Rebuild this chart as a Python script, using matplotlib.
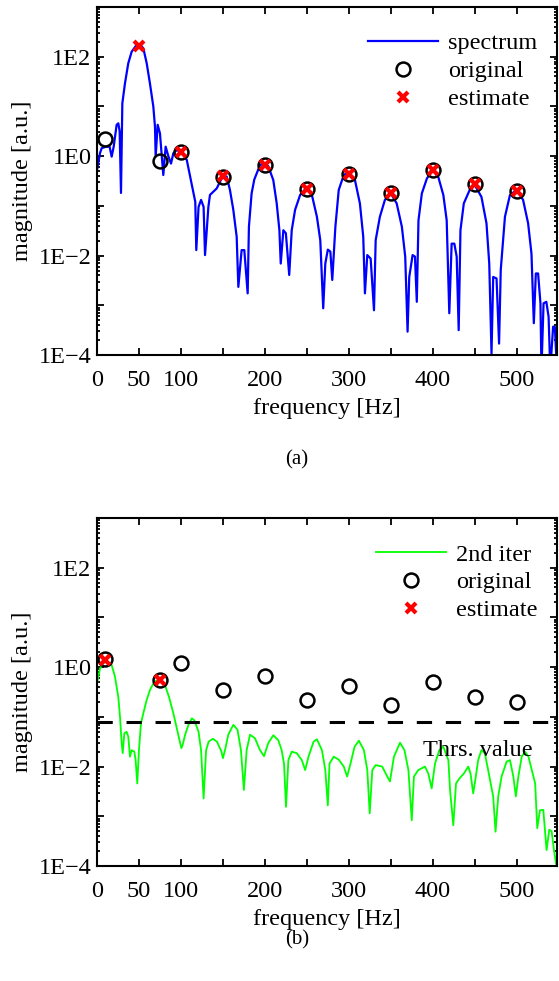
import numpy as np
import matplotlib
matplotlib.use('Agg')
import matplotlib.pyplot as plt
from matplotlib.ticker import FixedLocator, FuncFormatter, LogLocator, NullFormatter

# spectrum of panel (a): frequency [Hz] and log10(magnitude)
spec_freq = [0, 3.6, 5.6, 11, 15, 17.5, 20, 23.4, 25.4, 27, 28.6, 30.2, 33.3, 37.3, 41.3,
             47.3, 51, 55.2, 59.2, 63.1, 67.1, 69.1, 69.9, 72.3, 75, 79, 81.8, 85, 88.2,
             91, 95, 101, 107, 111, 115, 117.1, 118.3, 121, 124, 127, 128.7, 132.7, 134.6,
             142.6, 148.5, 154.5, 158.4, 162.4, 166.4, 168.4, 172.3, 175.5, 179.5, 181,
             184.2, 187.4, 190.2, 194.2, 199, 204, 210, 214.1, 217.3, 218.9, 222, 225, 229,
             232, 236, 242, 249, 256, 262, 266, 269.5, 272, 275, 278, 280.3, 284, 288, 294,
             299.5, 307.3, 313.2, 317.2, 319.2, 322, 326, 330, 332, 337, 343, 350, 357,
             363.2, 367.2, 370, 372, 376, 378.8, 381, 383, 387, 393, 400, 406.6, 412.6,
             416.6, 419.7, 422.5, 425.7, 428.5, 430.9, 433, 437, 444, 450, 458, 464, 467.3,
             470, 472, 476, 479, 481, 486, 492, 500, 507.6, 513.6, 517.6, 520.4, 522.8,
             525.5, 528.3, 529.5, 532, 535.3, 538, 540, 543.4, 545.4, 548]
spec_log = [-0.28, 0.06, 0.16, 0.19, 0.19, -0.01, 0.2, 0.63, 0.66, 0.5, -0.74, 1.06, 1.46,
            1.87, 2.10, 2.24, 2.25, 2.17, 1.87, 1.46, 1.0, 0.59, -0.01, 0.63, 0.46, -0.38,
            0.19, 0.0, -0.15, 0.06, 0.12, 0.09, -0.08, -0.41, -0.75, -0.92, -1.89, -1.02,
            -0.88, -1.02, -1.99, -1.02, -0.78, -0.65, -0.45, -0.41, -0.68, -1.08, -1.62,
            -2.63, -1.89, -1.89, -2.76, -1.42, -0.75, -0.47, -0.35, -0.18, -0.15, -0.2,
            -0.48, -0.95, -1.49, -2.16, -1.49, -1.55, -2.39, -1.49, -1.08, -0.78, -0.65,
            -0.78, -1.22, -1.69, -3.06, -2.16, -1.88, -1.92, -2.49, -1.42, -0.68, -0.38,
            -0.32, -0.48, -0.95, -1.62, -2.76, -1.99, -2.06, -3.1, -1.69, -1.22, -0.88,
            -0.75, -0.95, -1.42, -2.02, -3.53, -2.43, -1.99, -2.02, -2.93, -1.29, -0.75,
            -0.45, -0.28, -0.42, -0.78, -1.29, -3.16, -1.76, -1.76, -2.02, -3.5, -1.49,
            -0.95, -0.68, -0.58, -0.82, -1.35, -2.16, -3.97, -2.43, -2.46, -3.77, -2.29,
            -1.22, -0.78, -0.68, -0.88, -1.35, -1.96, -3.36, -2.36, -2.36, -2.96, -4.3,
            -2.96, -2.93, -3.23, -4.3, -3.43, -3.43, -4.3]

# 2nd iteration residual spectrum of panel (b)
iter_freq = [0, 3.6, 7.5, 11.5, 17.5, 21.4, 25.4, 27.4, 29.4, 30.6, 32.6, 35.3, 37.3, 39.3,
             41.3, 44.5, 46, 48, 50, 52.4, 55.2, 59.2, 63.1, 68.3, 74.3, 81, 85.8, 91,
             96.5, 100.5, 102, 105, 109, 113, 116, 121, 124, 127, 130, 133, 138, 143,
             148.3, 150, 152.5, 156.4, 162.4, 167.4, 171.5, 175, 178.3, 182.3, 188.2,
             194.2, 199, 204, 210, 216, 220, 222.8, 225.2, 228, 232, 238, 244, 248, 252,
             258, 262, 268, 272, 275, 277, 282, 288, 294, 298, 302, 306.9, 312, 318, 322,
             324.9, 328, 332, 339.8, 345.8, 349, 353.8, 361, 366.3, 371, 375, 377.6,
             382.8, 390.7, 394.7, 398.7, 402.7, 407.8, 412.6, 418.6, 420.6, 424.5, 427.7,
             431.7, 437, 442.3, 445, 448.2, 451.3, 454.1, 458, 462, 466, 472, 474.8, 478,
             482, 488, 492, 496, 499, 502, 506, 510, 514, 518, 522, 524.5, 527.7, 531.7,
             535.6, 538.8, 541.6, 544.4, 547.5, 549.9]
iter_log = [-0.33, -0.03, 0.08, 0.11, 0.04, -0.19, -0.6, -1.0, -1.53, -1.73, -1.33, -1.3,
            -1.4, -1.8, -1.67, -1.7, -1.87, -2.34, -1.67, -1.13, -0.93, -0.66, -0.46,
            -0.29, -0.25, -0.36, -0.6, -0.93, -1.33, -1.63, -1.57, -1.36, -1.16, -1.03,
            -1.07, -1.3, -1.67, -2.64, -1.67, -1.5, -1.44, -1.5, -1.7, -1.83, -1.67, -1.36,
            -1.16, -1.26, -1.67, -2.47, -1.67, -1.36, -1.43, -1.67, -1.79, -1.53, -1.37,
            -1.47, -1.67, -1.94, -2.81, -1.87, -1.7, -1.73, -1.87, -2.07, -1.8, -1.5, -1.45,
            -1.67, -2.07, -2.78, -1.94, -1.8, -1.86, -2.0, -2.2, -1.94, -1.6, -1.48, -1.67,
            -2.07, -2.94, -2.07, -1.97, -2.0, -2.2, -2.3, -1.8, -1.52, -1.67, -2.07, -3.08,
            -2.2, -2.07, -2.0, -2.14, -2.44, -1.94, -1.67, -1.6, -1.87, -2.47, -3.18, -2.34,
            -2.24, -2.14, -2.0, -2.14, -2.54, -2.2, -1.87, -1.67, -1.73, -2.07, -2.6, -3.31,
            -2.6, -2.2, -1.9, -1.87, -2.2, -2.6, -2.2, -1.8, -1.7, -1.8, -2.07, -2.34,
            -3.24, -2.88, -2.87, -3.68, -3.27, -3.3, -3.68, -4.02, -3.6]

# harmonic markers
orig_freq = [10, 75, 100, 150, 200, 250, 300, 350, 400, 450, 500]
orig_log_a = [0.34, -0.10, 0.09, -0.42, -0.17, -0.66, -0.35, -0.75, -0.28, -0.57, -0.70]
orig_log_b = [0.16, -0.26, 0.08, -0.45, -0.18, -0.66, -0.37, -0.76, -0.29, -0.60, -0.70]
est_freq_a = [50, 100, 150, 200, 250, 300, 350, 400, 450, 500]
est_log_a = [2.22, 0.09, -0.40, -0.17, -0.66, -0.35, -0.75, -0.28, -0.57, -0.70]
est_freq_b = [10, 75]
est_log_b = [0.14, -0.26]
thrs_log = -1.11

xticks = [0, 50, 100, 150, 200, 250, 300, 350, 400, 450, 500]
xticklabels = ['0', '50', '100', '', '200', '', '300', '', '400', '', '500']

plt.rcParams['font.family'] = ['Liberation Serif', 'DejaVu Serif']
plt.rcParams['font.size'] = 17.5

fig = plt.figure(figsize=(5.59, 9.81), dpi=100)
ax_a = fig.add_axes([0.1735, 0.6381, 0.8229, 0.3548])
ax_b = fig.add_axes([0.1735, 0.1172, 0.8229, 0.3548])


def y_label(v, pos):
    e = int(round(np.log10(v)))
    if e % 2:
        return ''
    return '1E' + str(e).replace('-', '\u2212')


def style_axes(ax):
    ax.set_yscale('log')
    ax.set_xlim(0, 548)
    ax.set_ylim(1e-4, 1e3)
    ax.set_xticks(xticks)
    ax.set_xticklabels(xticklabels)
    ax.yaxis.set_major_locator(FixedLocator([10.0 ** e for e in range(-4, 4)]))
    ax.yaxis.set_major_formatter(FuncFormatter(y_label))
    ax.yaxis.set_minor_locator(LogLocator(base=10, subs=np.arange(2, 10), numticks=20))
    ax.yaxis.set_minor_formatter(NullFormatter())
    ax.tick_params(which='both', direction='in', top=True, right=True, width=1.3)
    ax.tick_params(which='major', length=5, pad=4)
    ax.tick_params(axis='x', which='major', pad=11)
    ax.tick_params(which='minor', length=2.5)
    for s in ax.spines.values():
        s.set_linewidth(1.5)
    ax.set_xlabel('frequency [Hz]', labelpad=5)
    ax.set_ylabel('magnitude [a.u.]', labelpad=4)


# (a)
ax_a.plot(spec_freq, np.power(10.0, spec_log), color='#0000ff', lw=1.6, label='spectrum')
ax_a.plot(orig_freq, np.power(10.0, orig_log_a), 'o', ms=10, mfc='none', mec='black',
          mew=1.8, label='original')
ax_a.plot(est_freq_a, np.power(10.0, est_log_a), 'x', ms=7, mec='red', mew=3,
          label='estimate')
style_axes(ax_a)
ax_a.legend(loc='upper right', bbox_to_anchor=(1.013, 1.0), frameon=False,
            handlelength=2.9, handletextpad=0.4, labelspacing=0.24, borderaxespad=0.65)

# (b)
ax_b.plot(iter_freq, np.power(10.0, iter_log), color='#00ff00', lw=1.3, label='2nd iter')
ax_b.plot(orig_freq, np.power(10.0, orig_log_b), 'o', ms=10, mfc='none', mec='black',
          mew=1.8, label='original')
ax_b.plot(est_freq_b, np.power(10.0, est_log_b), 'x', ms=7, mec='red', mew=3,
          label='estimate')
ax_b.axhline(10.0 ** thrs_log, color='black', lw=2.2, ls=(0, (5, 4.5)))
ax_b.text(388, 0.021, 'Thrs. value', va='center', ha='left')
style_axes(ax_b)
ax_b.legend(loc='upper right', bbox_to_anchor=(1.013, 1.0), frameon=False,
            handlelength=2.9, handletextpad=0.4, labelspacing=0.24, borderaxespad=0.65)

fig.text(297 / 559, 1 - 460 / 981, '(a)', ha='center', va='center', fontsize=15)
fig.text(297 / 559, 1 - 940 / 981, '(b)', ha='center', va='center', fontsize=15)

fig.savefig('out.png', dpi=100)
